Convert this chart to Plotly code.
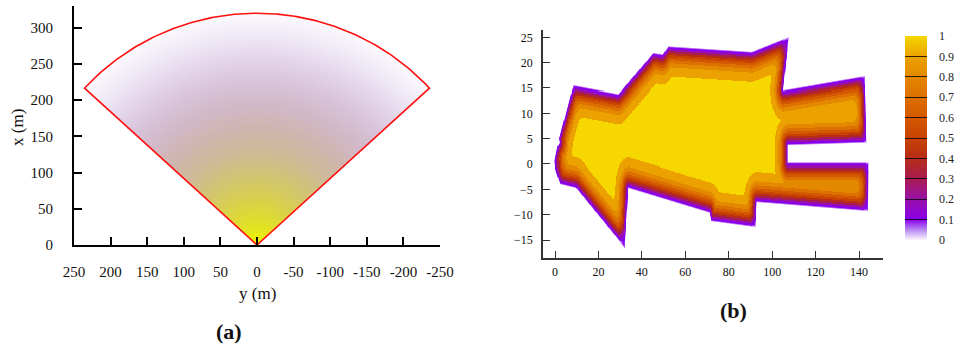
import numpy as np
import plotly.graph_objects as go

# ---------------- data: panel (a) sensing fan ----------------
fan_radius = 320.0            # m
fan_half_angle_deg = 47.4     # deg, half opening angle
fan_stops = [0.0, 0.1, 0.2, 0.3, 0.4, 0.5, 0.6, 0.7, 0.8, 0.9, 1.0]   # r / radius
fan_colors = ['#eef300', '#e0df2a', '#d8d04c', '#d2c472', '#cfba96', '#cfb5ae',
              '#d2b8c6', '#d8c2d8', '#e3d4e9', '#efe8f5', '#fbf9fd']
a_xticks = [250, 200, 150, 100, 50, 0, -50, -100, -150, -200, -250]
a_yticks = [0, 50, 100, 150, 200, 250, 300]

# ---------------- data: panel (b) map outline ----------------
outline_x = [-0.5, 1.0, 2.0, 1.6, 8.4, 29.2, 45.3, 49.5, 52.2, 90.6, 107.8, 105.2,
             142.8, 143.6, 107.2, 107.2, 144.4, 144.2, 92.9, 92.4, 71.8, 71.0,
             33.8, 32.3, 9.7, 2.3, 0.0]
outline_y = [0.5, 3.5, 4.2, 5.0, 15.6, 13.9, 22.0, 21.7, 23.3, 22.2, 25.2, 14.6,
             17.4, 4.1, 3.6, 0.3, 0.3, -9.4, -7.6, -12.6, -11.4, -9.7,
             -4.8, -16.8, -4.8, -4.0, -1.2]
band_depth = 6.2          # m, depth from the border at which the value reaches 1
band_power = 2.0          # shape of the rise from the border to the plateau
blur_sigma = 2.8          # m, smoothing length limiting narrow parts of the map
cap_low, cap_high = 0.35, 0.98
level_vals = [0.0, 0.1, 0.2, 0.3, 0.4, 0.5, 0.6, 0.7, 0.8, 0.9, 1.0]
level_colors = ['#fbf7fe', '#8a00ec', '#9810a8', '#a81c50', '#b62c18', '#c84200',
                '#d45800', '#dc7000', '#e48800', '#eba200', '#f6d800']
b_xticks = [0, 20, 40, 60, 80, 100, 120, 140]
b_yticks = [-15, -10, -5, 0, 5, 10, 15, 20, 25]
cb_ticks = [0, 0.1, 0.2, 0.3, 0.4, 0.5, 0.6, 0.7, 0.8, 0.9, 1]
cb_labels = ['0', '0.1', '0.2', '0.3', '0.4', '0.5', '0.6', '0.7', '0.8', '0.9', '1']

SERIF = 'Liberation Serif'
W, H = 954, 352

# ---------- panel (a): radial field inside the fan ----------
lat = np.arange(-252, 253, 2.0)
fwd = np.arange(0, 324, 2.0)
LAT, FWD = np.meshgrid(lat, fwd)
R = np.hypot(LAT, FWD)
ANG = np.degrees(np.arctan2(np.abs(LAT), FWD))
za = np.where((R <= fan_radius) & (ANG <= fan_half_angle_deg), R / fan_radius, np.nan)
za = np.round(za, 4)
fan_scale = [[s, c] for s, c in zip(fan_stops, fan_colors)]

th = np.radians(fan_half_angle_deg)
arc = np.linspace(th, -th, 200)
edge_lat = np.concatenate([[0.0], fan_radius * np.sin(arc), [0.0]])
edge_fwd = np.concatenate([[0.0], fan_radius * np.cos(arc), [0.0]])

# ---------- panel (b): value field of the outlined map ----------
DXG, DYG = 0.25, 0.2
gx = np.arange(-3.0, 148.0, DXG)
gy = np.arange(-18.6, 26.5, DYG)
GX, GY = np.meshgrid(gx, gy)
px_ = np.array(outline_x)
py_ = np.array(outline_y)
n = len(px_)
dist = np.full(GX.shape, np.inf)
ins = np.zeros(GX.shape, bool)
with np.errstate(divide='ignore', invalid='ignore'):
    for i in range(n):
        x1, y1 = px_[i], py_[i]
        x2, y2 = px_[(i + 1) % n], py_[(i + 1) % n]
        dx, dy = x2 - x1, y2 - y1
        t = np.clip(((GX - x1) * dx + (GY - y1) * dy) / (dx * dx + dy * dy), 0, 1)
        dist = np.minimum(dist, np.hypot(GX - x1 - t * dx, GY - y1 - t * dy))
        if y1 != y2:
            cross = ((y1 > GY) != (y2 > GY)) & (GX < dx * (GY - y1) / dy + x1)
            ins ^= cross
v_depth = 1 - (1 - np.clip(dist / band_depth, 0, 1)) ** band_power


def gauss_kernel(step):
    half = int(np.ceil(3.5 * blur_sigma / step))
    u = np.arange(-half, half + 1) * step
    k = np.exp(-0.5 * (u / blur_sigma) ** 2)
    return k / k.sum()


occ = np.apply_along_axis(lambda r: np.convolve(r, gauss_kernel(DXG), mode='same'), 1,
                          ins.astype(float))
occ = np.apply_along_axis(lambda c: np.convolve(c, gauss_kernel(DYG), mode='same'), 0, occ)
v_cap = np.clip((occ - cap_low) / (cap_high - cap_low), 0, 1)
v = np.minimum(v_depth, np.maximum(v_cap, 0.6 * v_depth))
zb = np.round(np.where(ins, v, np.nan), 3)

# stepped scale for the map (continuous fade below the first level)
b_scale = [[level_vals[0], level_colors[0]], [level_vals[1], level_colors[1]]]
for k in range(1, 10):
    b_scale.append([level_vals[k] + 1e-4, level_colors[k]])
    b_scale.append([level_vals[k + 1] - 1e-4, level_colors[k]])
b_scale.append([1.0, level_colors[10]])
cb_scale = [[v_, c] for v_, c in zip(level_vals, level_colors)]
cb_scale.insert(1, [0.05, '#b888f2'])

NB = '\u00a0\u00a0\u00a0'
fig = go.Figure()
fig.add_trace(go.Heatmap(x=lat, y=fwd, z=za, colorscale=fan_scale, zmin=0, zmax=1,
                         showscale=False, hoverinfo='skip', xaxis='x', yaxis='y'))
fig.add_trace(go.Scatter(x=edge_lat, y=edge_fwd, mode='lines',
                         line=dict(color='#ff1010', width=1.6), showlegend=False,
                         hoverinfo='skip', xaxis='x', yaxis='y'))
fig.add_trace(go.Heatmap(x=gx, y=gy, z=zb, colorscale=b_scale, zmin=0, zmax=1,
                         showscale=False, hoverinfo='skip', xaxis='x2', yaxis='y2'))
fig.add_trace(go.Scatter(x=[None], y=[None], mode='markers', showlegend=False,
                         marker=dict(color=[0.5], cmin=0, cmax=1, colorscale=cb_scale,
                                     showscale=True,
                                     colorbar=dict(thickness=22, thicknessmode='pixels',
                                                   len=204, lenmode='pixels',
                                                   x=905 / W, xanchor='left', xpad=0,
                                                   y=1 - 138 / H, yanchor='middle', ypad=0,
                                                   tickmode='array', tickvals=cb_ticks,
                                                   ticktext=[NB + s for s in cb_labels],
                                                   ticks='inside',
                                                   ticklen=22, tickwidth=1,
                                                   tickcolor='rgba(0,0,0,0.8)',
                                                   outlinewidth=0,
                                                   tickfont=dict(family=SERIF, size=12,
                                                                 color='#222'))),
                         xaxis='x2', yaxis='y2'))

ax_common = dict(showgrid=False, zeroline=False, showline=True, ticks='inside',
                 mirror=False, automargin=False)
fig.update_layout(
    width=W, height=H, margin=dict(l=0, r=0, t=0, b=0, autoexpand=False),
    paper_bgcolor='white', plot_bgcolor='white',
    font=dict(family=SERIF, color='#111'),
    xaxis=dict(ax_common, domain=[74 / W, 440 / W], range=[250, -250],
               tickvals=a_xticks, ticktext=[str(x) for x in a_xticks],
               linecolor='black', linewidth=2, ticklen=8, tickwidth=1.5,
               tickcolor='black', tickfont=dict(size=15), ticklabelstandoff=12,
               anchor='y'),
    yaxis=dict(ax_common, domain=[1 - 245 / H, 1 - 6 / H], range=[0, 330],
               tickvals=a_yticks, linecolor='black', linewidth=2, ticklen=8,
               tickwidth=1.5, tickcolor='black', tickfont=dict(size=15),
               ticklabelstandoff=16, anchor='x'),
    xaxis2=dict(ax_common, domain=[543 / W, 883 / W], range=[-5.53, 151.05],
                tickvals=b_xticks, linecolor='#333', linewidth=1.5, ticklen=7,
                tickwidth=1.2, tickcolor='#333', tickfont=dict(size=12),
                ticklabelstandoff=2, anchor='y2'),
    yaxis2=dict(ax_common, domain=[1 - 258 / H, 1 - 30 / H], range=[-18.55, 26.44],
                tickvals=b_yticks, linecolor='#333', linewidth=1.5, ticklen=7,
                tickwidth=1.2, tickcolor='#333', tickfont=dict(size=12),
                ticklabelstandoff=6, anchor='x2'),
    annotations=[
        dict(text='y (m)', x=257 / W, y=1 - 293 / H, xref='paper', yref='paper',
             showarrow=False, font=dict(size=17), xanchor='center', yanchor='middle'),
        dict(text='x (m)', x=17 / W, y=1 - 128 / H, xref='paper', yref='paper',
             showarrow=False, font=dict(size=17), textangle=-90,
             xanchor='center', yanchor='middle'),
        dict(text='<b>(a)</b>', x=229 / W, y=1 - 331 / H, xref='paper', yref='paper',
             showarrow=False, font=dict(size=22), xanchor='center', yanchor='middle'),
        dict(text='<b>(b)</b>', x=733 / W, y=1 - 310 / H, xref='paper', yref='paper',
             showarrow=False, font=dict(size=22), xanchor='center', yanchor='middle'),
    ],
)

fig.write_html('out.html', config={'displayModeBar': False},
               post_script="document.body.style.margin='0px';")
